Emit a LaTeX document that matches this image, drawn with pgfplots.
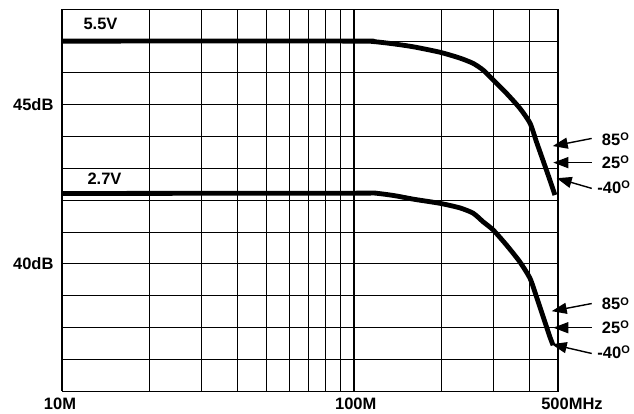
\documentclass[border=0pt]{standalone}
\usepackage{pgfplots}
\pgfplotsset{compat=1.18}
\usetikzlibrary{arrows.meta}
\usepackage{fontspec}
\setmainfont{Liberation Sans}
\newcommand{\lbl}{\fontsize{16.5}{18}\selectfont\bfseries}
\newcommand{\dg}[1]{#1\raisebox{4.6pt}{\fontsize{11}{11}\selectfont O}}
\begin{document}
\begin{tikzpicture}
\begin{axis}[
 scale only axis, width=496pt, height=381.7pt,
 xmode=log, xmin=10, xmax=500, ymin=36, ymax=48,
 xtick={10,100,500}, xticklabels={,,},
 minor xtick={20,30,40,50,60,70,80,90,200,300,400},
 ytick={40,45}, yticklabels={,},
 minor ytick={36,37,...,48},
 grid=both,
 major grid style={black, line width=1.1pt},
 minor grid style={black, line width=0.9pt},
 axis line style={black, line width=1pt},
 major tick length=0pt, minor tick length=0pt,
 clip=false,
]
\addplot[black, line width=4.8pt, line join=round, smooth, tension=0.4] coordinates {
(10,47.0) (100,47.0) (115,46.99) (135,46.92) (160,46.82) (197,46.65) (230,46.47) (256,46.30) (277,46.09) (300,45.78) (333,45.36) (370,44.89) (401,44.42) (422,43.83) (445,43.23) (469,42.63) (488,42.16)
};
\addplot[black, line width=4.8pt, line join=round, smooth, tension=0.4] coordinates {
(10,42.21) (100,42.22) (118,42.22) (138,42.14) (160,42.03) (197,41.90) (230,41.76) (256,41.59) (277,41.32) (300,41.06) (333,40.59) (370,40.06) (401,39.54) (422,38.96) (445,38.33) (469,37.70) (481,37.44)
};
% axis labels
\node[anchor=east,font=\lbl] at ([xshift=-5pt]axis cs:10,45) {45dB};
\node[anchor=east,font=\lbl] at ([xshift=-5pt]axis cs:10,40) {40dB};
\node[anchor=base,font=\lbl] at ([xshift=-2pt,yshift=-18.3pt]axis cs:10,36) {10M};
\node[anchor=base,font=\lbl] at ([xshift=1.8pt,yshift=-18.3pt]axis cs:100,36) {100M};
\node[anchor=base,font=\lbl] at ([xshift=14pt,yshift=-18.3pt]axis cs:500,36) {500MHz};
% series labels
\node[anchor=base,font=\lbl] at ([xshift=38.5pt]axis cs:10,47.35) {5.5V};
\node[anchor=base,font=\lbl] at ([xshift=42.5pt]axis cs:10,42.48) {2.7V};
% temperature arrows
\tikzset{tarr/.style={line width=1.4pt, -{Triangle[length=15pt,width=11pt]}}}
\draw[tarr] ([xshift=33.7pt]axis cs:500,43.94) -- ([xshift=-5.3pt]axis cs:500,43.70);
\draw[tarr] ([xshift=33.7pt]axis cs:500,43.18) -- ([xshift=-4.7pt]axis cs:500,43.18);
\draw[tarr] ([xshift=33.7pt]axis cs:500,42.37) -- ([xshift=-1.3pt]axis cs:500,42.69);
\draw[tarr] ([xshift=33.7pt]axis cs:500,38.75) -- ([xshift=-6.3pt]axis cs:500,38.51);
\draw[tarr] ([xshift=33.7pt]axis cs:500,37.99) -- ([xshift=-4.7pt]axis cs:500,37.99);
\draw[tarr] ([xshift=33.7pt]axis cs:500,37.18) -- ([xshift=-6.3pt]axis cs:500,37.47);
\node[anchor=base east,font=\lbl,inner sep=0pt] at ([xshift=71pt]axis cs:500,43.73) {\dg{85}};
\node[anchor=base east,font=\lbl,inner sep=0pt] at ([xshift=71pt]axis cs:500,43.00) {\dg{25}};
\node[anchor=base east,font=\lbl,inner sep=0pt] at ([xshift=72pt]axis cs:500,42.22) {\dg{-40}};
\node[anchor=base east,font=\lbl,inner sep=0pt] at ([xshift=71pt]axis cs:500,38.55) {\dg{85}};
\node[anchor=base east,font=\lbl,inner sep=0pt] at ([xshift=71pt]axis cs:500,37.81) {\dg{25}};
\node[anchor=base east,font=\lbl,inner sep=0pt] at ([xshift=72pt]axis cs:500,37.03) {\dg{-40}};
\coordinate (O) at (rel axis cs:0,0);
\coordinate (T) at (rel axis cs:1,1);
\end{axis}
\pgfresetboundingbox
\path ([shift={(-62pt,-22pt)}]O) rectangle ([shift={(76pt,9.3pt)}]T);
\end{tikzpicture}
\end{document}
